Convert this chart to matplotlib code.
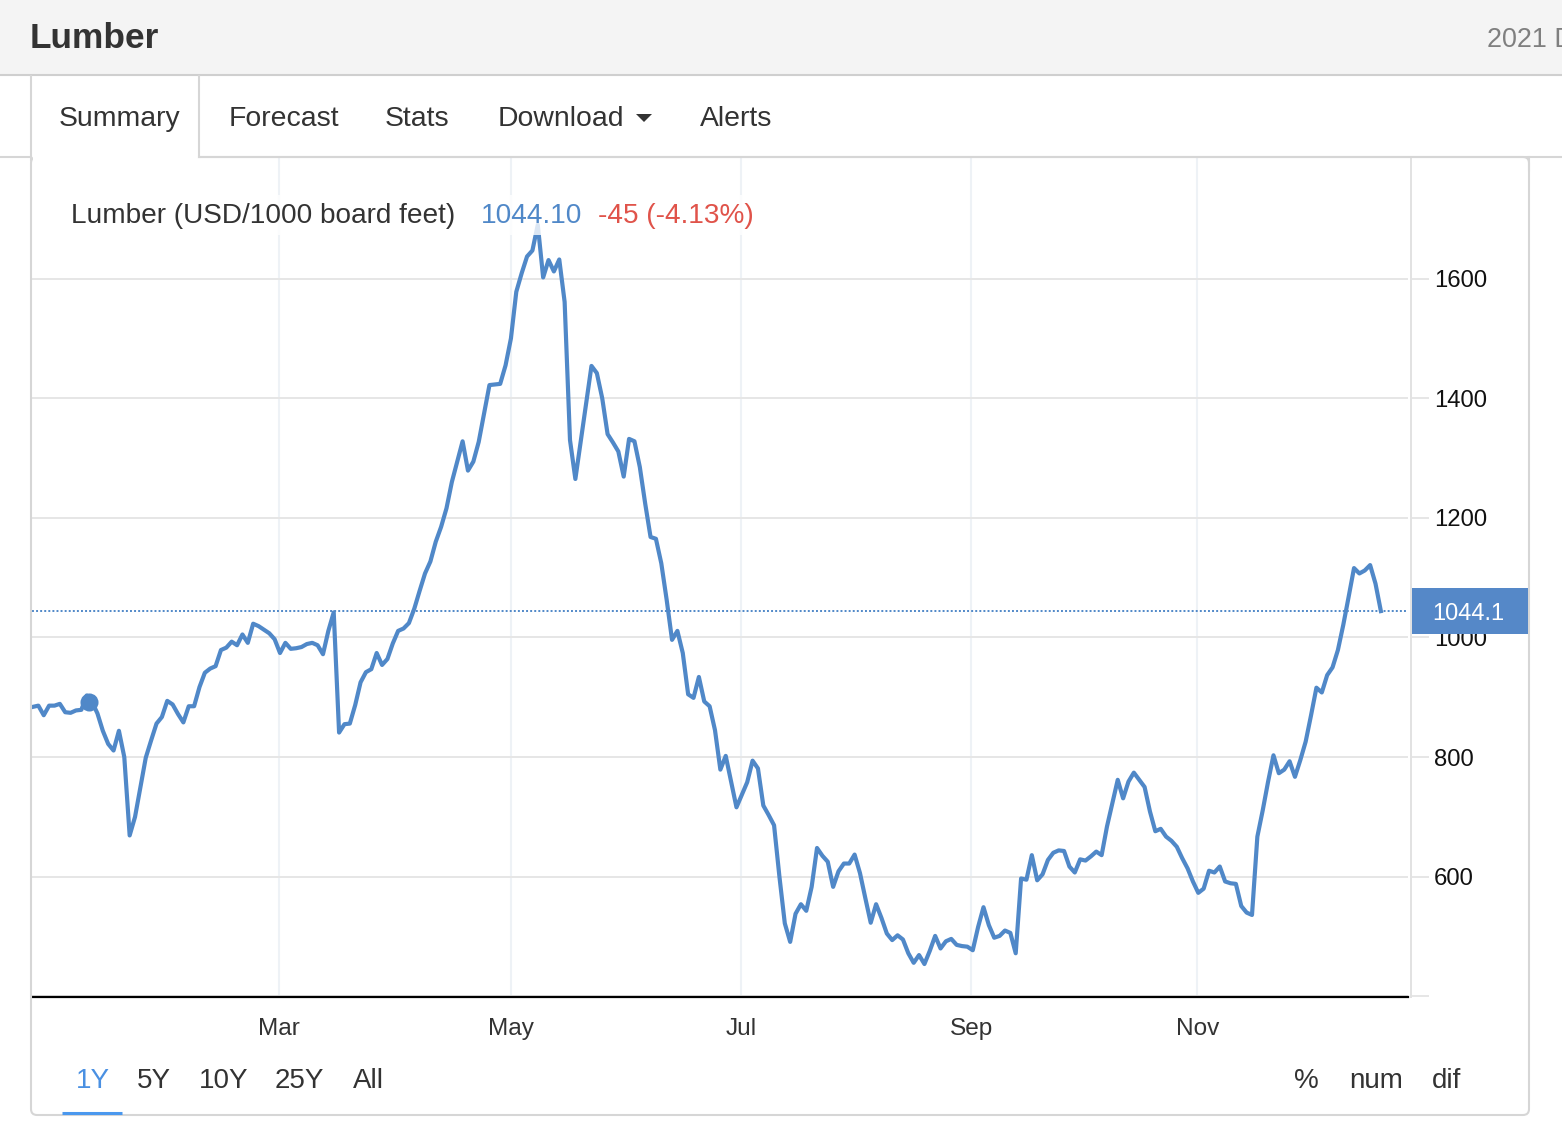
import matplotlib
matplotlib.use('Agg')
import matplotlib.pyplot as plt
from matplotlib.patches import Rectangle, FancyBboxPatch, Polygon
import numpy as np

plt.rcParams['font.family'] = ['Liberation Sans', 'DejaVu Sans']

# lumber close, one value per trading session
price = [884, 886, 870, 886, 886, 889, 875, 874, 878, 879, 903, 892, 873, 844, 822, 811, 844, 800, 669, 700,
         750, 799, 828, 856, 867, 894, 888, 872, 858, 885, 885, 917, 941, 948, 952, 979, 983, 993, 987, 1005,
         991, 1023, 1019, 1013, 1007, 997, 974, 991, 981, 982, 984, 989, 991, 987, 972, 1011, 1042, 841, 855, 856,
         887, 925, 942, 947, 974, 954, 964, 990, 1011, 1015, 1024, 1048, 1078, 1107, 1127, 1160, 1185, 1216, 1260, 1294,
         1328, 1279, 1294, 1327, 1375, 1422, 1423, 1424, 1455, 1500, 1578, 1609, 1637, 1647, 1690, 1602, 1631, 1612, 1632, 1561,
         1330, 1265, 1328, 1391, 1454, 1442, 1400, 1340, 1326, 1311, 1269, 1332, 1328, 1285, 1224, 1168, 1165, 1124, 1063, 996,
         1011, 974, 905, 899, 934, 893, 885, 845, 779, 802, 759, 716, 737, 758, 794, 781, 719, 703, 686, 600,
         522, 491, 538, 554, 543, 583, 648, 635, 625, 583, 609, 622, 622, 637, 606, 564, 523, 554, 531, 505,
         494, 502, 495, 472, 456, 469, 454, 476, 501, 480, 492, 496, 486, 484, 483, 477, 516, 549, 519, 498,
         501, 510, 506, 472, 597, 595, 636, 594, 604, 628, 640, 644, 643, 617, 607, 629, 627, 634, 642, 636,
         684, 723, 762, 731, 759, 774, 762, 750, 709, 676, 680, 667, 660, 650, 631, 614, 592, 573, 580, 610,
         607, 617, 592, 589, 588, 551, 540, 536, 667, 711, 759, 803, 773, 779, 793, 767, 795, 826, 870, 916,
         908, 937, 950, 979, 1021, 1068, 1116, 1107, 1112, 1121, 1090, 1044.1]
last_price = 1044.1
hover_session = 10.5
hover_price = 892

month_labels = ['Mar', 'May', 'Jul', 'Sep', 'Nov']
month_sessions = [45.8, 89.0, 131.8, 174.7, 216.8]
y_ticks = [400, 600, 800, 1000, 1200, 1400, 1600]
y_tick_labels = ['', '600', '800', '1000', '1200', '1400', '1600']

tab_labels = ['Forecast', 'Stats', 'Download', 'Alerts']
tab_x = [229, 385, 498, 700]
range_labels = ['5Y', '10Y', '25Y', 'All']
range_x = [137, 199, 275, 353]
mode_labels = ['%', 'num', 'dif']
mode_x = [1294, 1349, 1432]

W, H = 1562, 1148
BLUE = '#5088c8'
TXT = '#333333'
EDGE = '#d6d6d6'

fig = plt.figure(figsize=(W / 100, H / 100), dpi=100, facecolor='white')

# plot area, placed by pixel
left, right, top, bottom = 32, 1408, 158, 997
ax = fig.add_axes([left / W, 1 - bottom / H, (right - left) / W, (bottom - top) / H], zorder=1)
ax.set_xlim((left - 33) / 5.37, (right - 33) / 5.37)
ax.set_ylim(600 - (bottom - 876.7) * 1.672, 600 + (876.7 - top) * 1.672)

ax.plot(np.arange(len(price)), price, color=BLUE, lw=3.0, solid_joinstyle='round', zorder=4)
ax.plot([hover_session], [hover_price], 'o', color=BLUE, ms=13, mew=0, zorder=5)
ax.axhline(last_price, color=BLUE, lw=1.4, dashes=(1, 1.1), zorder=3)

ax.set_xticks(month_sessions)
ax.set_xticklabels(month_labels)
ax.tick_params(axis='x', length=0, pad=15, labelsize=17.6, labelcolor=TXT)
ax.xaxis.grid(True, color='#eef2f6', lw=1.5)

ax.yaxis.tick_right()
ax.set_yticks(y_ticks)
ax.set_yticklabels(y_tick_labels, va='center_baseline')
ax.tick_params(axis='y', length=13, width=1.44, color='#e6e6e6', pad=3.4, labelsize=17.2, labelcolor='#111111')
ax.yaxis.grid(True, color='#e6e6e6', lw=1.44)
ax.set_axisbelow(True)

for s in ['left', 'top']:
    ax.spines[s].set_visible(False)
ax.spines['bottom'].set_color('black')
ax.spines['bottom'].set_linewidth(1.6)
ax.spines['right'].set_position(('outward', 2.2))
ax.spines['right'].set_color('#e2e2e2')
ax.spines['right'].set_linewidth(1.44)

# page furniture around the chart, in pixel coords
ui = fig.add_axes([0, 0, 1, 1], zorder=2)
ui.set_xlim(0, W)
ui.set_ylim(H, 0)
ui.axis('off')

ui.add_patch(Rectangle((0, 0), W, 75, fc='#f4f4f4', ec='none'))
ui.plot([0, W], [75, 75], color='#cfcfcf', lw=1.5)
ui.text(30, 48, 'Lumber', fontsize=25.4, fontweight='bold', color=TXT)
# runs off the page edge in the source screenshot too
ui.text(1487, 47, '2021 D', fontsize=19.4, color='#7f7f7f', clip_on=True)

# panel outline and tab strip
ui.add_patch(FancyBboxPatch((31, 157), 1498, 958, boxstyle='round,pad=0,rounding_size=6',
                            fc='none', ec=EDGE, lw=1.5))
ui.plot([0, 31], [157, 157], color=EDGE, lw=1.5)
ui.plot([199, W], [157, 157], color=EDGE, lw=1.5)
ui.plot([1529, 1529], [157, 170], color=EDGE, lw=1.5)
ui.add_patch(Rectangle((33, 154), 165, 6, fc='white', ec='none'))
ui.plot([31, 31], [76, 160], color=EDGE, lw=1.5)
ui.plot([199, 199], [76, 157], color=EDGE, lw=1.5)

ui.text(59, 126, 'Summary', fontsize=20.4, color=TXT)
for name, x in zip(tab_labels, tab_x):
    ui.text(x, 126, name, fontsize=20.4, color=TXT)
ui.add_patch(Polygon([(636, 114), (652, 114), (644, 122)], fc=TXT, ec='none'))

# header row over the plot, washes out whatever runs behind it
ui.add_patch(Rectangle((71, 195), 685, 40, fc='white', ec='none', alpha=0.8))
ui.text(71, 223, 'Lumber (USD/1000 board feet)', fontsize=20.2, color=TXT)
ui.text(481, 223, '1044.10', fontsize=20.2, color=BLUE)
ui.text(598, 223, '-45 (-4.13%)', fontsize=20.2, color='#e0534a')

# last price flag
ui.add_patch(Rectangle((1412, 588), 116, 46, fc='#5588c8', ec='none'))
ui.text(1468, 620, '1044.1', fontsize=17, color='white', ha='center')

# range buttons
ui.text(76, 1088, '1Y', fontsize=20, color='#4a90e2')
ui.plot([62, 122], [1113, 1113], color='#4a98ee', lw=2.2, solid_capstyle='butt')
for name, x in zip(range_labels, range_x):
    ui.text(x, 1088, name, fontsize=20, color=TXT)
for name, x in zip(mode_labels, mode_x):
    ui.text(x, 1088, name, fontsize=20, color=TXT)

fig.savefig('out.png', dpi=100, facecolor='white')
